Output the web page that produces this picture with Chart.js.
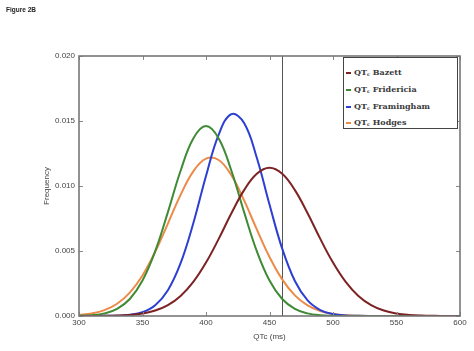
<!DOCTYPE html>
<html>
<head>
<meta charset="utf-8">
<script src="https://cdn.jsdelivr.net/npm/chart.js@4.4.1/dist/chart.umd.min.js"></script>
<style>
  body { margin: 0; background: #fff; }
  #wrap { position: relative; width: 474px; height: 351px; }
  #figTitle { position: absolute; left: 6px; top: 6px; font: bold 6.5px "Liberation Sans", Arial, sans-serif; color: #222; }
  #legendBox { position: absolute; left: 343px; top: 57px; width: 115px; height: 72px; box-sizing: border-box;
    border: 1px solid #444; background: #fff; font: bold 8px "DejaVu Serif", serif; color: #3a3a3a; }
  #legendBox .row { position: absolute; left: 2px; height: 12px; line-height: 12px; white-space: nowrap; }
  #legendBox .dash { display: inline-block; width: 5px; height: 2px; vertical-align: middle; margin-right: 3px; }
  #legendBox sub { font-size: 5px; vertical-align: -1px; }
</style>
</head>
<body>
<div id="wrap">
  <canvas id="c" width="474" height="351"></canvas>
  <div id="figTitle">Figure 2B</div>
  <div id="legendBox"></div>
</div>
<script>
// QTc distributions, every 10 ms
const QTC = [300, 310, 320, 330, 340, 350, 360, 370, 380, 390, 400, 410, 420, 430, 440, 450,
  460, 470, 480, 490, 500, 510, 520, 530, 540, 550, 560, 570, 580, 590, 600];

const bazett = [0.000001, 0.000004, 0.000012, 0.000032, 0.000082, 0.000192, 0.000418, 0.000837,
  0.00154, 0.00262, 0.00411, 0.00593, 0.00790, 0.00968, 0.01094, 0.01140, 0.01094, 0.00968,
  0.00790, 0.00593, 0.00411, 0.00262, 0.00154, 0.000837, 0.000418, 0.000192, 0.000082,
  0.000032, 0.000012, 0.000004, 0.000001];

const fridericia = [0.00002, 0.00006, 0.00020, 0.00055, 0.00131, 0.00273, 0.00499, 0.00799,
  0.01117, 0.01366, 0.01461, 0.01366, 0.01117, 0.00799, 0.00499, 0.00273, 0.00131, 0.00055,
  0.00020, 0.00006, 0.00002, 0, 0, 0, 0, 0, 0, 0, 0, 0, 0];

const framingham = [0, 0, 0.00001, 0.00002, 0.00009, 0.00030, 0.00083, 0.00198, 0.00406,
  0.00713, 0.01077, 0.01396, 0.01553, 0.01484, 0.01217, 0.00857, 0.00518, 0.00269, 0.00120,
  0.00046, 0.00015, 0.00004, 0.00001, 0, 0, 0, 0, 0, 0, 0, 0];

const hodges = [0.000078, 0.000196, 0.00045, 0.00094, 0.00180, 0.00312, 0.00493, 0.00711,
  0.00932, 0.01113, 0.01211, 0.01200, 0.01082, 0.00889, 0.00666, 0.00454, 0.00282, 0.00159,
  0.00082, 0.00038, 0.00016, 0.00006, 0.00002, 0.000007, 0.000002, 0, 0, 0, 0, 0, 0];

const CUTOFF = 460;

const SERIES = [
  { name: 'Bazett', data: bazett, color: '#7d2222' },
  { name: 'Fridericia', data: fridericia, color: '#3f8a35' },
  { name: 'Framingham', data: framingham, color: '#2d3fd2' },
  { name: 'Hodges', data: hodges, color: '#ec8a48' },
];

// ── HTML legend (needs the subscript c) ──────────────────────────────────────
const legendRowsY = [8, 25, 42, 58];
document.getElementById('legendBox').innerHTML = SERIES.map((s, i) => `
  <div class="row" style="top:${legendRowsY[i]}px"><span class="dash" style="background:${s.color}"></span>QT<sub>c</sub> ${s.name}</div>`).join('');

// ── frame, inward ticks, cutoff line ─────────────────────────────────────────
const framePlugin = {
  id: 'frame',
  beforeDatasetsDraw(chart) {
    const { ctx, chartArea: a, scales: { x } } = chart;
    const px = Math.round(x.getPixelForValue(CUTOFF)) + 0.5;
    ctx.save();
    ctx.strokeStyle = '#555';
    ctx.lineWidth = 1;
    ctx.beginPath(); ctx.moveTo(px, a.top); ctx.lineTo(px, a.bottom); ctx.stroke();
    ctx.restore();
  },
  afterDatasetsDraw(chart) {
    const { ctx, chartArea: a, scales: { x, y } } = chart;
    ctx.save();
    ctx.strokeStyle = '#888';
    ctx.lineWidth = 1;
    ctx.beginPath();
    x.ticks.forEach((t) => {
      const p = Math.round(x.getPixelForValue(t.value)) + 0.5;
      ctx.moveTo(p, a.bottom); ctx.lineTo(p, a.bottom - 4);
      ctx.moveTo(p, a.top); ctx.lineTo(p, a.top + 4);
    });
    y.ticks.forEach((t) => {
      const p = Math.round(y.getPixelForValue(t.value)) + 0.5;
      ctx.moveTo(a.left, p); ctx.lineTo(a.left + 4, p);
      ctx.moveTo(a.right, p); ctx.lineTo(a.right - 4, p);
    });
    ctx.stroke();
    ctx.strokeStyle = '#777';
    ctx.lineWidth = 1.6;
    ctx.strokeRect(a.left, a.top, a.right - a.left, a.bottom - a.top);
    ctx.restore();
  },
};

const tickFont = { family: '"Liberation Sans", Arial, sans-serif', size: 8 };

new Chart(document.getElementById('c'), {
  type: 'line',
  data: {
    datasets: SERIES.map((s) => ({
      label: s.name,
      data: QTC.map((q, i) => ({ x: q, y: s.data[i] })),
      borderColor: s.color,
      borderWidth: 2,
      pointRadius: 0,
      tension: 0.4,
      fill: false,
    })),
  },
  options: {
    responsive: false,
    animation: false,
    layout: { padding: { top: 56, right: 14, left: 0, bottom: 0 } },
    plugins: { legend: { display: false }, tooltip: { enabled: false } },
    scales: {
      x: {
        type: 'linear', min: 300, max: 600,
        afterFit: (s) => { s.height = 35; },
        grid: { display: false, drawTicks: false },
        border: { display: false },
        ticks: { stepSize: 50, padding: 2, color: '#444', font: tickFont, maxRotation: 0 },
        title: { display: true, text: 'QTc (ms)', color: '#444', font: tickFont, padding: { top: 0, bottom: 9 } },
      },
      y: {
        min: 0, max: 0.02,
        afterFit: (s) => { s.width = 79; },
        grid: { display: false, drawTicks: false },
        border: { display: false },
        ticks: { stepSize: 0.005, padding: 4, color: '#444', font: tickFont, callback: (v) => v.toFixed(3) },
        title: { display: true, text: 'Frequency', color: '#444', font: tickFont, padding: { top: 42, bottom: 0 } },
      },
    },
  },
  plugins: [framePlugin],
});
</script>
</body>
</html>
